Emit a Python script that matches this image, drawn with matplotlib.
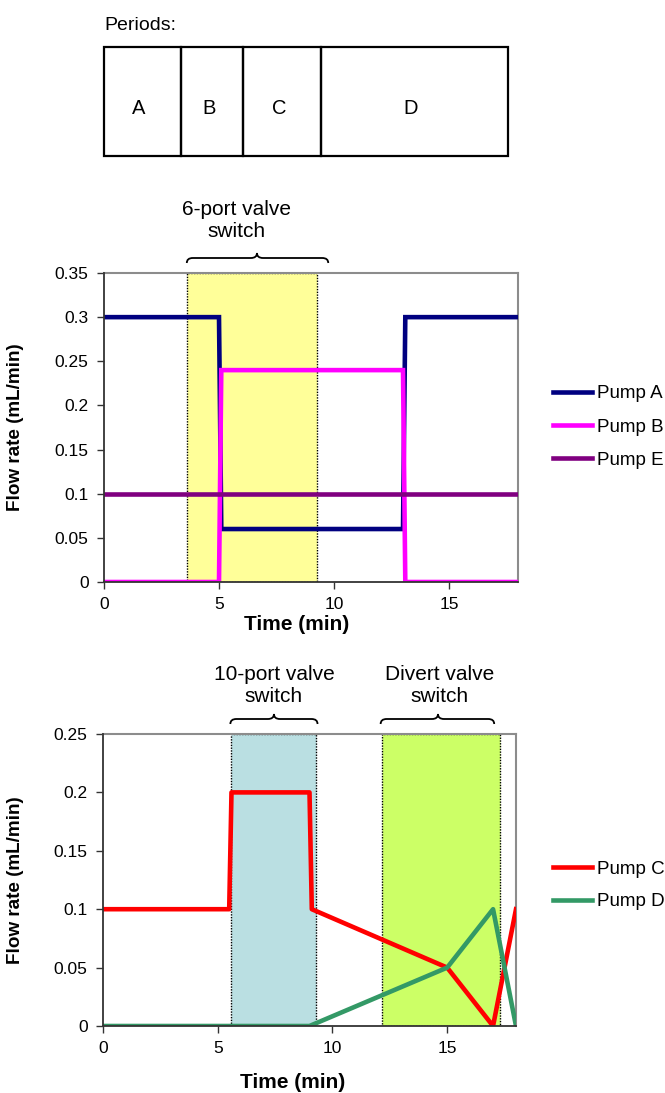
import matplotlib
matplotlib.use("Agg")
import matplotlib.pyplot as plt
from matplotlib.path import Path
from matplotlib.patches import PathPatch, Rectangle
from matplotlib.transforms import blended_transform_factory

plt.rcParams['font.family'] = ['Liberation Sans', 'DejaVu Sans']

# ---------------- data ----------------
period_labels = ["A", "B", "C", "D"]
period_edges = [0, 3.35, 6.05, 9.45, 17.55]

time_A = [0, 5, 5.1, 13, 13.1, 18]
pump_A = [0.3, 0.3, 0.06, 0.06, 0.3, 0.3]
time_B = [0, 5, 5.1, 13, 13.1, 18]
pump_B = [0, 0, 0.24, 0.24, 0, 0]
time_E = [0, 18]
pump_E = [0.1, 0.1]

time_C = [0, 5.5, 5.6, 9, 9.1, 15, 17, 18]
pump_C = [0.1, 0.1, 0.2, 0.2, 0.1, 0.05, 0, 0.1]
time_D = [0, 9, 15, 17, 18]
pump_D = [0, 0, 0.05, 0.1, 0]

six_port_span = (3.6, 9.25)
six_port_brace = (3.6, 9.75, 6.65)
six_port_text_x = 5.75
ten_port_span = (5.6, 9.3)
ten_port_brace = (5.55, 9.35, 7.45)
ten_port_text_x = 7.45
divert_span = (12.15, 17.3)
divert_brace = (12.1, 17.05, 14.6)
divert_text_x = 14.65

x_ticks = [0, 5, 10, 15]
y_ticks_top = [0, 0.05, 0.1, 0.15, 0.2, 0.25, 0.3, 0.35]
y_ticks_bot = [0, 0.05, 0.1, 0.15, 0.2, 0.25]

W, H = 665, 1093
fig = plt.figure(figsize=(W / 100, H / 100), dpi=100)


def px_axes(left, top, right, bottom):
    return fig.add_axes([left / W, 1 - bottom / H, (right - left) / W, (bottom - top) / H])


def fmt(v):
    s = f"{v:.2f}".rstrip('0').rstrip('.')
    return s


def style_axes(ax, yticks, ymax):
    ax.set_xlim(0, 18)
    ax.set_ylim(0, ymax)
    ax.set_xticks(x_ticks)
    ax.set_xticklabels([str(t) for t in x_ticks])
    ax.set_yticks(yticks)
    ax.set_yticklabels([fmt(t) for t in yticks])
    ax.tick_params(direction='out', length=5, width=1.0, color='#333333',
                   labelsize=12.5, pad=6)
    for s in ['top', 'right']:
        ax.spines[s].set_color('#8c8c8c')
        ax.spines[s].set_linewidth(1.5)
    for s in ['left', 'bottom']:
        ax.spines[s].set_color('#333333')
        ax.spines[s].set_linewidth(1.3)
        ax.spines[s].set_zorder(5)
    ax.set_ylabel('Flow rate (mL/min)', fontsize=13.6, fontweight='bold')
    ax.set_xlabel('Time (min)', fontsize=15, fontweight='bold')


def shade(ax, span, color):
    ax.axvspan(span[0], span[1], facecolor=color, edgecolor='black',
               linestyle=(0, (1, 1)), linewidth=1.0, zorder=1)


def brace(ax, spec, gap_px=10, d=5, r=6):
    x0d, x1d, xmd = spec
    fig.canvas.draw()
    trans = ax.transData
    top = ax.transAxes.transform((0, 1))[1]
    x0 = trans.transform((x0d, 0))[0]
    x1 = trans.transform((x1d, 0))[0]
    xm = trans.transform((xmd, 0))[0]
    yb = top + gap_px
    verts = [(x0, yb), (x0, yb + d), (x0 + r, yb + d),
             (xm - r, yb + d),
             (xm, yb + d), (xm, yb + 2 * d),
             (xm, yb + d), (xm + r, yb + d),
             (x1 - r, yb + d),
             (x1, yb + d), (x1, yb)]
    codes = [Path.MOVETO, Path.CURVE3, Path.CURVE3,
             Path.LINETO,
             Path.CURVE3, Path.CURVE3,
             Path.CURVE3, Path.CURVE3,
             Path.LINETO,
             Path.CURVE3, Path.CURVE3]
    fig.patches.append(PathPatch(Path(verts, codes), facecolor='none',
                                 edgecolor='black', linewidth=1.3,
                                 transform=None, figure=fig))


# ---------------- periods box ----------------
axp = px_axes(104, 47, 518, 156)
axp.set_xlim(0, 18)
axp.set_ylim(0, 1)
axp.axis('off')
for i, lab in enumerate(period_labels):
    a, b = period_edges[i], period_edges[i + 1]
    axp.add_patch(Rectangle((a, 0), b - a, 1, facecolor='none',
                            edgecolor='black', linewidth=1.6, clip_on=False))
    axp.text((a + b) / 2 - 0.15, 0.44, lab, ha='center', va='center', fontsize=14.5)
fig.text(104 / W, 1 - 25 / H, 'Periods:', ha='left', va='center', fontsize=14)

# ---------------- top chart ----------------
ax1 = px_axes(104, 273, 518, 582)
shade(ax1, six_port_span, '#FFFF99')
ax1.plot(time_A, pump_A, color='#000080', lw=3.3, label='Pump A', zorder=3,
         solid_joinstyle='miter')
ax1.plot(time_B, pump_B, color='#FF00FF', lw=3.3, label='Pump B', zorder=3,
         solid_joinstyle='miter')
ax1.plot(time_E, pump_E, color='#800080', lw=3.3, label='Pump E', zorder=3)
style_axes(ax1, y_ticks_top, 0.35)
ax1.yaxis.set_label_coords(-0.193, 0.5)
ax1.xaxis.set_label_coords(0.465, -0.139)
ax1.xaxis.label.set_verticalalignment('center')
ax1.legend(loc='center left', bbox_to_anchor=(553 / W, 1 - 427 / H),
           bbox_transform=fig.transFigure, frameon=False, fontsize=13.5,
           handlelength=2.1, handletextpad=0.25, labelspacing=0.85,
           borderpad=0, borderaxespad=0)
bt = blended_transform_factory(ax1.transData, ax1.transAxes)
ax1.text(six_port_text_x, 1 + 52.5 / 309, '6-port valve\nswitch', transform=bt,
         ha='center', va='center', fontsize=15, linespacing=1.2)

# ---------------- bottom chart ----------------
ax2 = px_axes(103, 734, 516, 1026)
shade(ax2, ten_port_span, '#BADFE2')
shade(ax2, divert_span, '#CCFF66')
ax2.plot(time_C, pump_C, color='#FF0000', lw=3.3, label='Pump C', zorder=3)
ax2.plot(time_D, pump_D, color='#339966', lw=3.3, label='Pump D', zorder=3)
style_axes(ax2, y_ticks_bot, 0.25)
ax2.yaxis.set_label_coords(-0.192, 0.5)
ax2.xaxis.set_label_coords(0.459, -0.195)
ax2.xaxis.label.set_verticalalignment('center')
ax2.legend(loc='center left', bbox_to_anchor=(553 / W, 1 - 885.5 / H),
           bbox_transform=fig.transFigure, frameon=False, fontsize=13.5,
           handlelength=2.1, handletextpad=0.25, labelspacing=0.8,
           borderpad=0, borderaxespad=0)
bt2 = blended_transform_factory(ax2.transData, ax2.transAxes)
ax2.text(ten_port_text_x, 1 + 48.5 / 292, '10-port valve\nswitch', transform=bt2,
         ha='center', va='center', fontsize=15, linespacing=1.2)
ax2.text(divert_text_x, 1 + 48.5 / 292, 'Divert valve\nswitch', transform=bt2,
         ha='center', va='center', fontsize=15, linespacing=1.2)

# braces
brace(ax1, six_port_brace)
brace(ax2, ten_port_brace)
brace(ax2, divert_brace)

fig.savefig('out.png', dpi=100)
